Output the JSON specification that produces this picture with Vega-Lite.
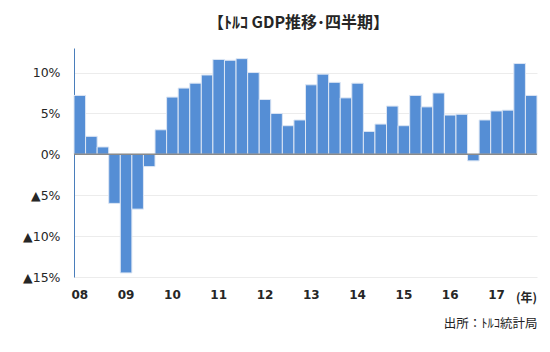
{
  "$schema": "https://vega.github.io/schema/vega-lite/v6.json",
  "autosize": {"type": "none"},
  "padding": {"left": 74, "top": 48, "right": 13, "bottom": 75},
  "width": 463,
  "height": 229,
  "background": "white",
  "title": {
    "text": "【ﾄﾙｺ GDP推移･四半期】",
    "font": "Noto Sans CJK JP",
    "fontSize": 16,
    "fontWeight": "bold",
    "color": "#262626",
    "anchor": "middle",
    "baseline": "middle",
    "offset": 25,
    "dx": -7,
    "dy": 16
  },
  "data": {
    "values": [
      {"q": "2008Q1", "v": 7.2}, {"q": "2008Q2", "v": 2.2}, {"q": "2008Q3", "v": 0.9}, {"q": "2008Q4", "v": -6.0},
      {"q": "2009Q1", "v": -14.5}, {"q": "2009Q2", "v": -6.7}, {"q": "2009Q3", "v": -1.5}, {"q": "2009Q4", "v": 3.0},
      {"q": "2010Q1", "v": 7.0}, {"q": "2010Q2", "v": 8.1}, {"q": "2010Q3", "v": 8.7}, {"q": "2010Q4", "v": 9.7},
      {"q": "2011Q1", "v": 11.6}, {"q": "2011Q2", "v": 11.5}, {"q": "2011Q3", "v": 11.7}, {"q": "2011Q4", "v": 10.0},
      {"q": "2012Q1", "v": 6.7}, {"q": "2012Q2", "v": 5.0}, {"q": "2012Q3", "v": 3.5}, {"q": "2012Q4", "v": 4.2},
      {"q": "2013Q1", "v": 8.5}, {"q": "2013Q2", "v": 9.8}, {"q": "2013Q3", "v": 8.8}, {"q": "2013Q4", "v": 6.9},
      {"q": "2014Q1", "v": 8.7}, {"q": "2014Q2", "v": 2.8}, {"q": "2014Q3", "v": 3.7}, {"q": "2014Q4", "v": 5.9},
      {"q": "2015Q1", "v": 3.5}, {"q": "2015Q2", "v": 7.2}, {"q": "2015Q3", "v": 5.8}, {"q": "2015Q4", "v": 7.5},
      {"q": "2016Q1", "v": 4.8}, {"q": "2016Q2", "v": 4.9}, {"q": "2016Q3", "v": -0.8}, {"q": "2016Q4", "v": 4.2},
      {"q": "2017Q1", "v": 5.3}, {"q": "2017Q2", "v": 5.4}, {"q": "2017Q3", "v": 11.1}, {"q": "2017Q4", "v": 7.2}
    ]
  },
  "layer": [
    {
      "mark": {"type": "bar", "color": "#558ed5", "stroke": "#dce6f4", "strokeWidth": 1},
      "encoding": {
        "x": {
          "field": "q",
          "type": "ordinal",
          "sort": null,
          "scale": {"paddingInner": 0, "paddingOuter": 0},
          "axis": {
            "title": "(年)",
            "titleFont": "Noto Sans CJK JP",
            "titleFontSize": 12,
            "titleFontWeight": "bold",
            "titleColor": "#262626",
            "titleAlign": "center",
            "titleBaseline": "middle",
            "titleX": 452,
            "titleY": 20,
            "labelExpr": "slice(datum.value, 4) == 'Q1' ? slice(datum.value, 2, 4) : ''",
            "labelAngle": 0,
            "labelOverlap": false,
            "labelFont": "DejaVu Sans",
            "labelFontSize": 12,
            "labelFontWeight": "bold",
            "labelColor": "#262626",
            "labelPadding": 12,
            "domain": false,
            "ticks": false,
            "grid": false
          }
        },
        "y": {
          "field": "v",
          "type": "quantitative",
          "scale": {"domain": [-15, 13], "nice": false, "zero": false},
          "axis": {
            "title": "出所：ﾄﾙｺ統計局",
            "titleFont": "Noto Sans CJK JP",
            "titleFontSize": 12.5,
            "titleFontWeight": "normal",
            "titleColor": "#222222",
            "titleAngle": 0,
            "titleAlign": "right",
            "titleBaseline": "middle",
            "titleX": 463,
            "titleY": 275,
            "values": [-15, -10, -5, 0, 5, 10],
            "labelExpr": "datum.value < 0 ? '▲' + abs(datum.value) + '%' : datum.value + '%'",
            "labelFont": "DejaVu Sans",
            "labelFontSize": 12.5,
            "labelColor": "#262626",
            "labelPadding": 14,
            "domainColor": "#4a7ebb",
            "domainWidth": 1,
            "ticks": false,
            "grid": true,
            "gridColor": "#ececec",
            "gridWidth": 1
          }
        }
      }
    },
    {
      "data": {"values": [{"z": 0}]},
      "mark": {"type": "rule", "color": "#8a8a8a", "strokeWidth": 1.5},
      "encoding": {"y": {"field": "z", "type": "quantitative"}}
    }
  ],
  "config": {"view": {"stroke": null}}
}
